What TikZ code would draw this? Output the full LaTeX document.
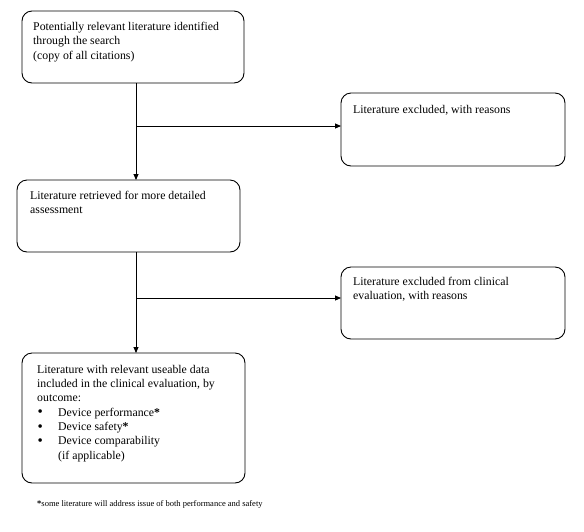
\documentclass[tikz,border=0pt]{standalone}
\usepackage{fontspec}
\setmainfont{Liberation Serif}
\usetikzlibrary{arrows.meta}
\newcommand{\bigbul}{\makebox[21pt][l]{\hspace{0.5pt}\raisebox{-0.6pt}{\fontsize{15}{14.3}\selectfont\textbullet}}}
\begin{document}
\begin{tikzpicture}[x=1pt,y=-1pt,
  box/.style={draw, rounded corners=10pt, line width=0.9pt, inner sep=0pt, outer sep=0pt, anchor=north west},
  txt/.style={inner sep=0pt, anchor=north west, align=left, font=\fontsize{11.8}{14.3}\selectfont},
  conn/.style={line width=0.9pt},
  arr/.style={line width=0.9pt, -{Triangle[length=6pt,width=5pt]}}]
\useasboundingbox (0,0) rectangle (584,531);
\fill[white] (0,0) rectangle (584,531);
% boxes
\node[box, minimum width=222pt, minimum height=72pt] (b1) at (22,11) {};
\node[box, minimum width=224pt, minimum height=73pt] (b2) at (341,93) {};
\node[box, minimum width=223pt, minimum height=72pt] (b3) at (17,180) {};
\node[box, minimum width=224pt, minimum height=72pt] (b4) at (341,267) {};
\node[box, minimum width=223pt, minimum height=130pt] (b5) at (22,353) {};
% texts
\node[txt] (t1) at (33,22) {Potentially relevant literature identified\\through the search\\(copy of all citations)};
\node[txt] (t2) at (353,105) {Literature excluded, with reasons};
\node[txt] (t3) at (30,191) {Literature retrieved for more detailed\\assessment};
\node[txt] (t4) at (353,277) {Literature excluded from clinical\\evaluation, with reasons};
\node[txt] (t5) at (37,365) {Literature with relevant useable data\\included in the clinical evaluation, by\\outcome:\\
\bigbul Device performance\textbf{*}\\
\bigbul Device safety\textbf{*}\\
\bigbul Device comparability\\
\makebox[21pt][l]{}(if applicable)};
\node[txt, font=\fontsize{8.5}{10}\selectfont] (fn) at (37,500) {\textbf{*}some literature will address issue of both performance and safety};
% junctions
\coordinate (j1) at (136,126);
\coordinate (j2) at (136,298);
% connectors
\draw[arr] (b1.south -| j1) -- (b3.north -| j1);
\draw[arr] (j1) -- (b2.west |- j1);
\draw[arr] (b3.south -| j2) -- (b5.north -| j2);
\draw[arr] (j2) -- (b4.west |- j2);
\end{tikzpicture}
\end{document}
